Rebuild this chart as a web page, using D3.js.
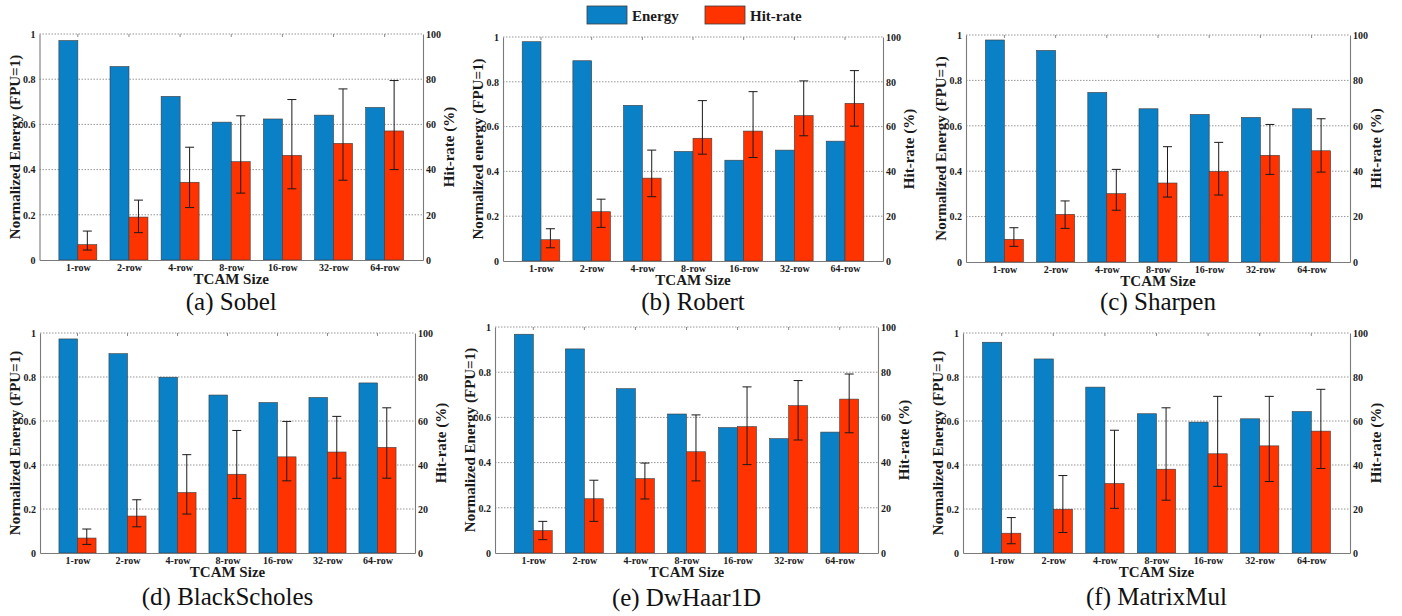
<!DOCTYPE html>
<html>
<head>
<meta charset="utf-8">
<script src="https://cdn.jsdelivr.net/npm/d3@7"></script>
<style>
    body { margin: 0; background: #ffffff; }
    svg { display: block; }
</style>
</head>
<body>
<svg id="chart"></svg>
<script>
/*--------------------------------------------------------------------------------
----- GROUPED BAR CHARTS (normalized energy and hit-rate per TCAM size)
--------------------------------------------------------------------------------*/

// Categories shared by every panel
const tcam_sizes = ["1-row", "2-row", "4-row", "8-row", "16-row", "32-row", "64-row"];

// Benchmark names, one per panel
const panel_titles = ["(a) Sobel", "(b) Robert", "(c) Sharpen", "(d) BlackScholes", "(e) DwHaar1D", "(f) MatrixMul"];
const energy_labels = ["Normalized Energy (FPU=1)", "Normalized energy (FPU=1)", "Normalized Energy (FPU=1)",
    "Normalized Energy (FPU=1)", "Normalized Energy (FPU=1)", "Normalized Energy (FPU=1)"];

// Normalized energy (left axis)
const sobel_energy = [0.971, 0.856, 0.724, 0.610, 0.624, 0.641, 0.675];
const robert_energy = [0.979, 0.894, 0.695, 0.489, 0.450, 0.495, 0.535];
const sharpen_energy = [0.978, 0.932, 0.747, 0.675, 0.650, 0.637, 0.675];
const blackscholes_energy = [0.973, 0.906, 0.799, 0.718, 0.684, 0.707, 0.773];
const dwhaar_energy = [0.968, 0.903, 0.727, 0.615, 0.555, 0.506, 0.535];
const matrixmul_energy = [0.958, 0.882, 0.754, 0.633, 0.595, 0.610, 0.643];

// Hit-rate in % (right axis)
const sobel_hit = [6.8, 19.0, 34.4, 43.5, 46.3, 51.6, 57.1];
const robert_hit = [9.5, 22.0, 37.0, 54.8, 58.0, 64.9, 70.4];
const sharpen_hit = [10.0, 21.0, 30.1, 34.8, 39.9, 47.0, 49.0];
const blackscholes_hit = [6.8, 16.8, 27.5, 35.8, 43.7, 45.9, 48.0];
const dwhaar_hit = [9.9, 24.0, 32.9, 44.8, 55.9, 65.2, 68.1];
const matrixmul_hit = [9.0, 19.9, 31.6, 38.1, 45.1, 48.7, 55.4];

// Hit-rate error bars: upper and lower ends in %
const sobel_hit_high = [12.8, 26.5, 49.9, 63.8, 71.0, 75.7, 79.4];
const sobel_hit_low = [4.4, 12.1, 23.2, 29.6, 31.5, 35.3, 40.0];
const robert_hit_high = [14.4, 27.6, 49.5, 71.6, 75.6, 80.4, 85.0];
const robert_hit_low = [5.9, 15.0, 28.7, 47.7, 46.2, 55.9, 60.2];
const sharpen_hit_high = [15.1, 26.9, 40.8, 50.8, 52.7, 60.6, 63.1];
const sharpen_hit_low = [6.9, 14.8, 22.8, 28.6, 29.5, 38.6, 39.6];
const blackscholes_hit_high = [10.9, 24.2, 44.7, 55.7, 59.8, 62.1, 66.0];
const blackscholes_hit_low = [3.9, 11.9, 17.7, 24.8, 32.8, 34.0, 34.0];
const dwhaar_hit_high = [14.0, 32.2, 39.8, 61.1, 73.5, 76.3, 79.2];
const dwhaar_hit_low = [5.9, 14.0, 23.9, 31.9, 39.1, 50.0, 53.2];
const matrixmul_hit_high = [16.1, 35.2, 55.8, 66.0, 71.2, 71.2, 74.4];
const matrixmul_hit_low = [4.2, 9.3, 20.3, 24.0, 30.3, 32.5, 38.4];

// Axis ticks
const energy_ticks = [0, 0.2, 0.4, 0.6, 0.8, 1];
const hit_ticks = [0, 20, 40, 60, 80, 100];

// Legend entries
const legend_names = ["Energy", "Hit-rate"];

// Gather each panel series
const panel_series = [
    [sobel_energy, sobel_hit, sobel_hit_low, sobel_hit_high],
    [robert_energy, robert_hit, robert_hit_low, robert_hit_high],
    [sharpen_energy, sharpen_hit, sharpen_hit_low, sharpen_hit_high],
    [blackscholes_energy, blackscholes_hit, blackscholes_hit_low, blackscholes_hit_high],
    [dwhaar_energy, dwhaar_hit, dwhaar_hit_low, dwhaar_hit_high],
    [matrixmul_energy, matrixmul_hit, matrixmul_hit_low, matrixmul_hit_high]
];

// Plot area of each panel (left, right, top, bottom) and title baseline
const panel_boxes = [
    { left: 39.5, right: 423, top: 34, bottom: 260, title_y: 310 },
    { left: 503, right: 883, top: 37, bottom: 261, title_y: 310 },
    { left: 966, right: 1350, top: 35, bottom: 262, title_y: 310 },
    { left: 40, right: 415, top: 333, bottom: 553, title_y: 605 },
    { left: 495, right: 878, top: 327, bottom: 553, title_y: 606 },
    { left: 963, right: 1350, top: 333, bottom: 553, title_y: 605 }
];

const energy_color = "#0a80c6";
const hit_color = "#ff3300";
const serif_font = "'Liberation Serif', 'Times New Roman', serif";

const chart_svg = d3.select("#chart")
    .attr("width", 1402)
    .attr("height", 616)
    .style("font-family", serif_font);

// Function to draw one panel
function draw_panel(box, series, title, energy_label) {
    const w = box.right - box.left, h = box.bottom - box.top;
    const g = chart_svg.append("g").attr("transform", `translate(${box.left}, ${box.top})`);

    const x_scale = d3.scalePoint().domain(tcam_sizes).range([0, w]).padding(0.75);
    const y_left = d3.scaleLinear().domain([0, 1]).range([h, 0]);
    const y_right = d3.scaleLinear().domain([0, 100]).range([h, 0]);
    const bar_w = x_scale.step() * 0.371;

    const rows = tcam_sizes.map((c, i) => ({
        cat: c, energy: series[0][i], hit: series[1][i], low: series[2][i], high: series[3][i]
    }));

    // Dotted gridlines (the top one acts as the upper border)
    g.selectAll(".grid")
        .data(energy_ticks.filter(t => t > 0))
        .join("line")
        .attr("x1", 0).attr("x2", w)
        .attr("y1", d => y_left(d)).attr("y2", d => y_left(d))
        .attr("stroke", "#8a8a8a")
        .attr("stroke-width", 0.9)
        .attr("stroke-dasharray", "1.5,1.5");

    // Energy bars
    g.selectAll(".energy")
        .data(rows)
        .join("rect")
        .attr("x", d => x_scale(d.cat) - bar_w)
        .attr("y", d => y_left(d.energy))
        .attr("width", bar_w)
        .attr("height", d => h - y_left(d.energy))
        .attr("fill", energy_color)
        .attr("stroke", "#3c3c3c")
        .attr("stroke-width", 0.6);

    // Hit-rate bars
    g.selectAll(".hit")
        .data(rows)
        .join("rect")
        .attr("x", d => x_scale(d.cat))
        .attr("y", d => y_right(d.hit))
        .attr("width", bar_w)
        .attr("height", d => h - y_right(d.hit))
        .attr("fill", hit_color)
        .attr("stroke", "#3c3c3c")
        .attr("stroke-width", 0.6);

    // Error bars on the hit-rate
    const err = g.selectAll(".err").data(rows).join("g")
        .attr("transform", d => `translate(${x_scale(d.cat) + bar_w / 2}, 0)`)
        .attr("stroke", "#1a1a1a")
        .attr("stroke-width", 1);
    err.append("line").attr("y1", d => y_right(d.low)).attr("y2", d => y_right(d.high));
    err.append("line").attr("x1", -4.5).attr("x2", 4.5).attr("y1", d => y_right(d.low)).attr("y2", d => y_right(d.low));
    err.append("line").attr("x1", -4.5).attr("x2", 4.5).attr("y1", d => y_right(d.high)).attr("y2", d => y_right(d.high));

    // Small tick marks hanging from the top border
    g.selectAll(".top-tick")
        .data(tcam_sizes)
        .join("line")
        .attr("x1", d => x_scale(d)).attr("x2", d => x_scale(d))
        .attr("y1", 0).attr("y2", 3)
        .attr("stroke", "#8a8a8a");

    // Left, right and bottom axes drawn with d3 axes
    const left_axis = g.append("g")
        .call(d3.axisLeft(y_left).tickValues(energy_ticks).tickFormat(d3.format("~g")).tickSize(0).tickPadding(4));
    const right_axis = g.append("g")
        .attr("transform", `translate(${w}, 0)`)
        .call(d3.axisRight(y_right).tickValues(hit_ticks).tickSize(0).tickPadding(3));
    const bottom_axis = g.append("g")
        .attr("transform", `translate(0, ${h})`)
        .call(d3.axisBottom(x_scale).tickSize(0).tickPadding(4));

    [left_axis, right_axis, bottom_axis].forEach(a => {
        a.select(".domain").attr("stroke", "#7a7a7a").attr("stroke-width", 1.1);
        a.selectAll("text")
            .attr("fill", "#1a1a1a")
            .style("font-family", serif_font)
            .style("font-weight", "bold")
            .style("font-size", "10px");
    });

    // Axis titles
    g.append("text")
        .attr("transform", `translate(-25, ${h / 2}) rotate(-90)`)
        .attr("text-anchor", "middle")
        .attr("dominant-baseline", "central")
        .style("font-weight", "bold")
        .style("font-size", "15px")
        .attr("fill", "#1a1a1a")
        .text(energy_label);
    g.append("text")
        .attr("transform", `translate(${w + 26}, ${h / 2}) rotate(-90)`)
        .attr("text-anchor", "middle")
        .attr("dominant-baseline", "central")
        .style("font-weight", "bold")
        .style("font-size", "15px")
        .attr("fill", "#1a1a1a")
        .text("Hit-rate (%)");
    g.append("text")
        .attr("x", w / 2)
        .attr("y", h + 24)
        .attr("text-anchor", "middle")
        .style("font-weight", "bold")
        .style("font-size", "15px")
        .attr("fill", "#1a1a1a")
        .text("TCAM Size");

    // Panel caption
    chart_svg.append("text")
        .attr("x", box.left + w / 2)
        .attr("y", box.title_y)
        .attr("text-anchor", "middle")
        .style("font-size", "25px")
        .attr("fill", "#111")
        .text(title);
}

panel_boxes.forEach((box, i) => draw_panel(box, panel_series[i], panel_titles[i], energy_labels[i]));

// Legend at the top
const legend_colors = [energy_color, hit_color];
const legend_x = [587, 705];
const legend = chart_svg.selectAll(".legend")
    .data(legend_names)
    .join("g")
    .attr("transform", (d, i) => `translate(${legend_x[i]}, 6)`);
legend.append("rect")
    .attr("width", 40).attr("height", 18)
    .attr("fill", (d, i) => legend_colors[i])
    .attr("stroke", "#3c3c3c")
    .attr("stroke-width", 0.8);
legend.append("text")
    .attr("x", 45).attr("y", 15)
    .style("font-weight", "bold")
    .style("font-size", "15px")
    .attr("fill", "#1a1a1a")
    .text(d => d);
</script>
</body>
</html>
